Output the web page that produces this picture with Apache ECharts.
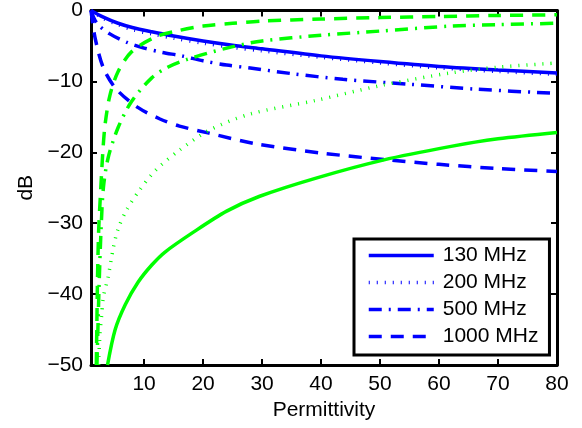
<!DOCTYPE html>
<html>
<head>
<meta charset="utf-8">
<script src="https://cdn.jsdelivr.net/npm/echarts@6/dist/echarts.min.js"></script>
<style>
html,body{margin:0;padding:0;background:#fff;}
#chart{width:582px;height:428px;}
</style>
</head>
<body>
<div id="chart"></div>
<script>
// ---- data ----
var xTicks = [10, 20, 30, 40, 50, 60, 70, 80];
var yTicks = [0, -10, -20, -30, -40, -50];

// Blue curves (in legend)
var b130x = [1, 3, 5.6, 8, 11.3, 15, 20, 25, 30, 40, 50, 60, 70, 80];
var b130y = [0, -0.9, -1.8, -2.4, -3.0, -3.6, -4.3, -4.9, -5.4, -6.4, -7.2, -7.9, -8.4, -8.8];

var b200x = [1, 3, 5.6, 8, 11.3, 15, 20, 25, 30, 40, 50, 60, 70, 80];
var b200y = [0, -1.1, -2.0, -2.7, -3.3, -3.9, -4.6, -5.2, -5.7, -6.6, -7.4, -8.1, -8.6, -9.0];

var b500x = [1, 2, 4.2, 7.1, 10, 13, 16.4, 20, 24, 28, 35, 43.7, 55, 66.4, 80];
var b500y = [0, -1.8, -3.3, -4.5, -5.3, -5.9, -6.4, -7.1, -7.7, -8.1, -8.9, -9.7, -10.4, -11.1, -11.7];

var b1000x = [1, 1.7, 3.1, 5.3, 9, 12.7, 16, 21, 29, 40, 51.7, 60, 70, 80];
var b1000y = [0, -3.9, -8.1, -11.1, -13.7, -15.3, -16.3, -17.3, -18.8, -20.1, -21.1, -21.7, -22.3, -22.7];

// Green curves (not in legend)
var g130x = [3.8, 5.1, 6.8, 9.0, 11.3, 13.5, 18.3, 24, 29.6, 39.3, 50.5, 61.8, 70, 80];
var g130y = [-50, -45, -41.5, -38.3, -35.9, -34.1, -31.3, -28.3, -26.2, -23.6, -21.1, -19.2, -18.1, -17.2];

var g200x = [2.3, 2.5, 2.8, 3.1, 3.9, 4.8, 5.6, 7.0, 9.0, 12, 16, 21, 28, 39, 50, 62, 70, 80];
var g200y = [-50, -45.8, -43, -40.4, -37.6, -33.4, -30.8, -28.2, -25.6, -22.5, -19.7, -16.9, -14.6, -12.7, -10.6, -8.8, -8.0, -7.4];

var g500x = [2.0, 2.2, 2.4, 2.7, 3.1, 3.9, 5.6, 7.9, 11.3, 14, 17.3, 24, 30, 40, 50, 62, 70, 80];
var g500y = [-50, -44, -38, -31, -25, -20.8, -16.5, -12.8, -9.5, -8.0, -6.9, -5.3, -4.3, -3.5, -2.9, -2.2, -2.0, -1.8];

var g1000x = [1.9, 2.0, 2.1, 2.3, 2.6, 3.0, 3.4, 4.2, 5.6, 7.9, 12, 16, 20, 25, 30, 40, 50, 60, 70, 80];
var g1000y = [-50, -44, -38, -31, -26, -20, -16, -12, -8.6, -5.8, -3.7, -2.8, -2.2, -1.8, -1.5, -1.2, -1.0, -0.85, -0.7, -0.6];

var legendNames = ['130 MHz', '200 MHz', '500 MHz', '1000 MHz'];

function pairs(xs, ys) { return xs.map(function (x, i) { return [x, ys[i]]; }); }

var FONT = 'Liberation Sans, Arial, Helvetica, sans-serif';
var FS = 21;
var BLUE = '#0000ff', GREEN = '#00ff00';
var DASH = [13, 9], DASHDOT = [13, 7, 2, 7], DOT = [1, 7];

function mk(name, xs, ys, color, type, z) {
  return {
    name: name, type: 'line', data: pairs(xs, ys),
    xAxisIndex: 0, yAxisIndex: 0,
    symbol: 'none', showSymbol: false, smooth: 0.3, z: z,
    lineStyle: { color: color, width: 3.5, type: type, cap: 'butt' },
    itemStyle: { color: color },
    emphasis: { disabled: true }
  };
}

var chart = echarts.init(document.getElementById('chart'), null, { renderer: 'canvas' });

var axisLineStyle = { show: true, onZero: false, lineStyle: { color: '#000', width: 3 } };
var tickStyle = { show: true, inside: true, length: 6, lineStyle: { color: '#000', width: 2 } };

chart.setOption({
  animation: false,
  backgroundColor: '#fff',
  textStyle: { fontFamily: FONT },
  grid: { left: 91, right: 25, top: 9, bottom: 63, containLabel: false },
  xAxis: [
    {
      type: 'value', min: 1, max: 80, position: 'bottom',
      axisLine: axisLineStyle,
      axisTick: Object.assign({}, tickStyle, { customValues: xTicks }),
      axisLabel: { customValues: xTicks, color: '#000', fontSize: FS, fontFamily: FONT, margin: 9 },
      splitLine: { show: false },
      name: 'Permittivity', nameLocation: 'middle', nameGap: 35,
      nameTextStyle: { color: '#000', fontSize: FS, fontFamily: FONT }
    },
    {
      type: 'value', min: 1, max: 80, position: 'top',
      axisLine: axisLineStyle,
      axisTick: Object.assign({}, tickStyle, { customValues: xTicks }),
      axisLabel: { show: false },
      splitLine: { show: false }
    }
  ],
  yAxis: [
    {
      type: 'value', min: -50, max: 0, interval: 10, position: 'left',
      axisLine: axisLineStyle,
      axisTick: tickStyle,
      axisLabel: {
        color: '#000', fontSize: FS, fontFamily: FONT, margin: 8,
        formatter: function (v) { return String(v).replace('-', '\u2212'); }
      },
      splitLine: { show: false },
      name: 'dB', nameLocation: 'middle', nameGap: 50, nameRotate: 90,
      nameTextStyle: { color: '#000', fontSize: FS, fontFamily: FONT }
    },
    {
      type: 'value', min: -50, max: 0, interval: 10, position: 'right',
      axisLine: axisLineStyle,
      axisTick: tickStyle,
      axisLabel: { show: false },
      splitLine: { show: false }
    }
  ],
  legend: {
    data: legendNames,
    orient: 'vertical',
    left: 354, top: 239,
    padding: [6, 11, 8, 13],
    itemWidth: 65, itemHeight: 21, itemGap: 6,
    backgroundColor: '#fff',
    borderColor: '#000', borderWidth: 3,
    selectedMode: false,
    itemStyle: { opacity: 0 },
    lineStyle: { width: 3.5, cap: 'butt' },
    textStyle: { color: '#000', fontSize: FS, fontFamily: FONT, lineHeight: 21, padding: [0, 0, 0, 4] }
  },
  series: [
    mk('130 MHz', b130x, b130y, BLUE, 'solid', 2),
    mk('200 MHz', b200x, b200y, BLUE, DOT, 2),
    mk('500 MHz', b500x, b500y, BLUE, DASHDOT, 2),
    mk('1000 MHz', b1000x, b1000y, BLUE, DASH, 2),
    mk('g130', g130x, g130y, GREEN, 'solid', 3),
    mk('g200', g200x, g200y, GREEN, DOT, 3),
    mk('g500', g500x, g500y, GREEN, DASHDOT, 3),
    mk('g1000', g1000x, g1000y, GREEN, DASH, 3)
  ]
});
</script>
</body>
</html>
